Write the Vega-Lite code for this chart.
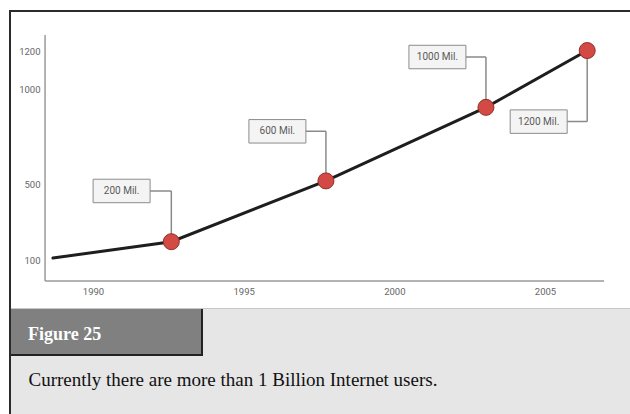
{
  "$schema": "https://vega.github.io/schema/vega-lite/v6.json",
  "background": "white",
  "padding": {"left": 9, "top": 10, "right": 0, "bottom": 0},
  "config": {
    "view": {"stroke": null},
    "axis": {"grid": false},
    "concat": {"spacing": 0}
  },
  "datasets": {
    "users": [
      {"year": 1988.67, "users": 114},
      {"year": 1992.6, "users": 200},
      {"year": 1997.73, "users": 520},
      {"year": 2003.04, "users": 907},
      {"year": 2006.4, "users": 1206}
    ],
    "notes": [
      {"year": 1992.6, "users": 200, "label": "200 Mil.", "labelYear": 1990.95, "labelUsers": 467},
      {"year": 1997.73, "users": 520, "label": "600 Mil.", "labelYear": 1996.12, "labelUsers": 781},
      {"year": 2003.04, "users": 907, "label": "1000 Mil.", "labelYear": 2001.43, "labelUsers": 1172},
      {"year": 2006.4, "users": 1206, "label": "1200 Mil.", "labelYear": 2004.79, "labelUsers": 832}
    ]
  },
  "spacing": 0,
  "hconcat": [
    {
      "width": 2, "height": 404,
      "view": {"fill": "#2b2b2b", "stroke": null},
      "data": {"values": []},
      "mark": "rect"
    },
    {
      "spacing": 0,
      "vconcat": [
        {
          "width": 619, "height": 2,
          "view": {"fill": "#2b2b2b", "stroke": null},
          "data": {"values": []},
          "mark": "rect"
        },
        {
          "width": 619, "height": 296,
          "view": {"fill": "white", "stroke": null},
          "layer": [
            {
              "data": {"values": [{}]},
              "mark": {"type": "rule", "color": "#9a9a9a", "strokeWidth": 1.5},
              "encoding": {
                "x": {"datum": 1988.41, "type": "quantitative"},
                "y": {"datum": -6.8, "type": "quantitative"},
                "y2": {"datum": 1288}
              }
            },
            {
              "data": {"values": [{}]},
              "mark": {"type": "rule", "color": "#9a9a9a", "strokeWidth": 1.5},
              "encoding": {
                "x": {"datum": 1988.41, "type": "quantitative"},
                "x2": {"datum": 2006.96},
                "y": {"datum": -6.8, "type": "quantitative"}
              }
            },
            {
              "data": {"name": "notes"},
              "mark": {"type": "rule", "color": "#8a8a8a", "strokeWidth": 1.5},
              "encoding": {
                "x": {"field": "labelYear", "type": "quantitative"},
                "x2": {"field": "year"},
                "y": {"field": "labelUsers", "type": "quantitative"}
              }
            },
            {
              "data": {"name": "notes"},
              "mark": {"type": "rule", "color": "#8a8a8a", "strokeWidth": 1.5},
              "encoding": {
                "x": {"field": "year", "type": "quantitative"},
                "y": {"field": "labelUsers", "type": "quantitative"},
                "y2": {"field": "users"}
              }
            },
            {
              "data": {"name": "users"},
              "mark": {"type": "line", "color": "#1e1e1e", "strokeWidth": 3, "strokeCap": "round"},
              "encoding": {
                "x": {
                  "field": "year", "type": "quantitative",
                  "scale": {"domain": [1987.28, 2007.82], "nice": false, "zero": false},
                  "axis": {
                    "orient": "bottom", "offset": -27, "values": [1990, 1995, 2000, 2005],
                    "format": "d", "domain": false, "ticks": false, "tickSize": 0,
                    "labelPadding": 5, "title": null, "labelFont": "Roboto",
                    "labelFontSize": 9.5, "labelColor": "#666666", "labelFlush": false, "labelOverlap": false
                  }
                },
                "y": {
                  "field": "users", "type": "quantitative",
                  "scale": {"domain": [-148.9, 1408.9], "nice": false, "zero": false},
                  "axis": {
                    "orient": "left", "offset": -34, "values": [100, 500, 1000, 1200],
                    "format": "d", "domain": false, "ticks": false, "tickSize": 0,
                    "labelPadding": 5, "title": null, "labelFont": "Roboto",
                    "labelFontSize": 9.5, "labelColor": "#666666", "labelOverlap": false
                  }
                }
              }
            },
            {
              "data": {"name": "notes"},
              "mark": {
                "type": "point", "shape": "M-1,-0.412L1,-0.412L1,0.412L-1,0.412Z", "size": 3249,
                "filled": true, "fill": "#f4f4f4", "stroke": "#8c8c8c", "strokeWidth": 1, "opacity": 1
              },
              "encoding": {
                "x": {"field": "labelYear", "type": "quantitative"},
                "y": {"field": "labelUsers", "type": "quantitative"}
              }
            },
            {
              "data": {"name": "notes"},
              "mark": {"type": "text", "font": "Roboto", "fontSize": 10, "color": "#5a5a5a", "align": "center", "baseline": "middle"},
              "encoding": {
                "x": {"field": "labelYear", "type": "quantitative"},
                "y": {"field": "labelUsers", "type": "quantitative"},
                "text": {"field": "label"}
              }
            },
            {
              "data": {"name": "notes"},
              "mark": {"type": "circle", "size": 256, "fill": "#d24a43", "stroke": "#8f2f2a", "strokeWidth": 1, "opacity": 1},
              "encoding": {
                "x": {"field": "year", "type": "quantitative"},
                "y": {"field": "users", "type": "quantitative"}
              }
            }
          ]
        },
        {
          "width": 619, "height": 1,
          "view": {"fill": "#c8c8c8", "stroke": null},
          "data": {"values": []},
          "mark": "rect"
        },
        {
          "spacing": 0,
          "hconcat": [
            {
              "spacing": 0,
              "vconcat": [
                {
                  "spacing": 0,
                  "hconcat": [
                    {
                      "width": 190, "height": 45,
                      "view": {"fill": "#808080", "stroke": null},
                      "data": {"values": [{"tab": "Figure 25"}]},
                      "mark": {
                        "type": "text", "font": "Liberation Serif", "fontSize": 18, "fontWeight": "bold",
                        "color": "#ffffff", "align": "left", "baseline": "alphabetic", "dx": -78, "dy": 8.5
                      },
                      "encoding": {"text": {"field": "tab"}}
                    },
                    {
                      "width": 2, "height": 45,
                      "view": {"fill": "#222222", "stroke": null},
                      "data": {"values": []},
                      "mark": "rect"
                    }
                  ]
                },
                {
                  "width": 192, "height": 2,
                  "view": {"fill": "#222222", "stroke": null},
                  "data": {"values": []},
                  "mark": "rect"
                }
              ]
            },
            {
              "width": 427, "height": 47,
              "view": {"fill": "#e6e6e6", "stroke": null},
              "data": {"values": []},
              "mark": "rect"
            }
          ]
        },
        {
          "width": 619, "height": 58,
          "view": {"fill": "#e6e6e6", "stroke": null},
          "data": {"values": [{"caption": "Currently there are more than 1 Billion Internet users."}]},
          "mark": {
            "type": "text", "font": "Liberation Serif", "fontSize": 19, "color": "#111111",
            "align": "left", "baseline": "alphabetic", "dx": -292, "dy": 1
          },
          "encoding": {"text": {"field": "caption"}}
        }
      ]
    }
  ]
}
